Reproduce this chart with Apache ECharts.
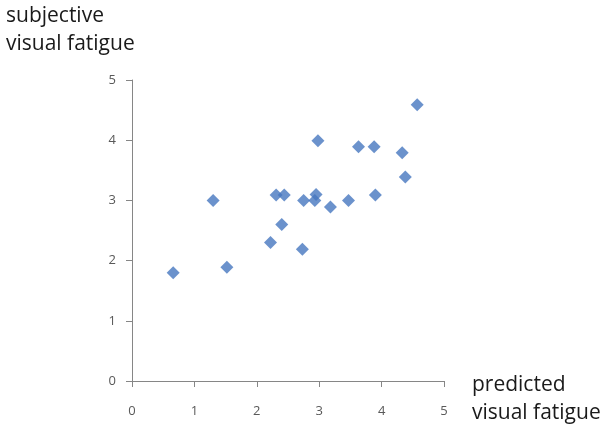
<!DOCTYPE html>
<html><head><meta charset="utf-8">
<script src="https://cdn.jsdelivr.net/npm/echarts@6/dist/echarts.min.js"></script>
<style>html,body{margin:0;padding:0;background:#fff}#c{width:608px;height:430px}</style>
</head><body><div id="c"></div>
<script>
const predicted = [0.66,1.30,1.52,2.22,2.31,2.44,2.40,2.73,2.75,2.93,2.95,2.98,3.18,3.47,3.63,3.88,3.90,4.33,4.38,4.57];
const subjective = [1.80,3.00,1.89,2.30,3.09,3.09,2.60,2.19,3.00,3.00,3.10,3.99,2.89,3.00,3.89,3.89,3.09,3.79,3.39,4.59];
const xTicks = [0,1,2,3,4,5];
const yTicks = [0,1,2,3,4,5];
const yTitle = 'subjective\nvisual fatigue';
const xTitle = 'predicted\nvisual fatigue';

const chart = echarts.init(document.getElementById('c'));
const axisCommon = {
  type:'value', min:0, max:5, interval:1,
  splitLine:{show:false},
  axisLine:{show:true, lineStyle:{color:'#868686', width:1}},
  axisTick:{show:true, length:6, lineStyle:{color:'#868686'}},
  axisLabel:{color:'#595959', fontSize:13, fontFamily:'Open Sans'}
};
chart.setOption({
  animation:false,
  grid:{left:132, right:164, top:80, bottom:49},
  xAxis:Object.assign({}, axisCommon, {axisLabel:Object.assign({}, axisCommon.axisLabel, {margin:24})}),
  yAxis:Object.assign({}, axisCommon, {axisLabel:Object.assign({}, axisCommon.axisLabel, {margin:16})}),
  graphic:[
    {type:'text', left:6, top:2, style:{text:yTitle, font:'21px "Open Sans"', fill:'#1a1a1a', lineHeight:28}},
    {type:'text', left:472, top:371, style:{text:xTitle, font:'21px "Open Sans"', fill:'#1a1a1a', lineHeight:28}}
  ],
  series:[{
    type:'scatter', symbol:'diamond', symbolSize:13,
    itemStyle:{color:'#4677BF'},
    data: predicted.map((x,i)=>[x, subjective[i]])
  }]
});
</script></body></html>
